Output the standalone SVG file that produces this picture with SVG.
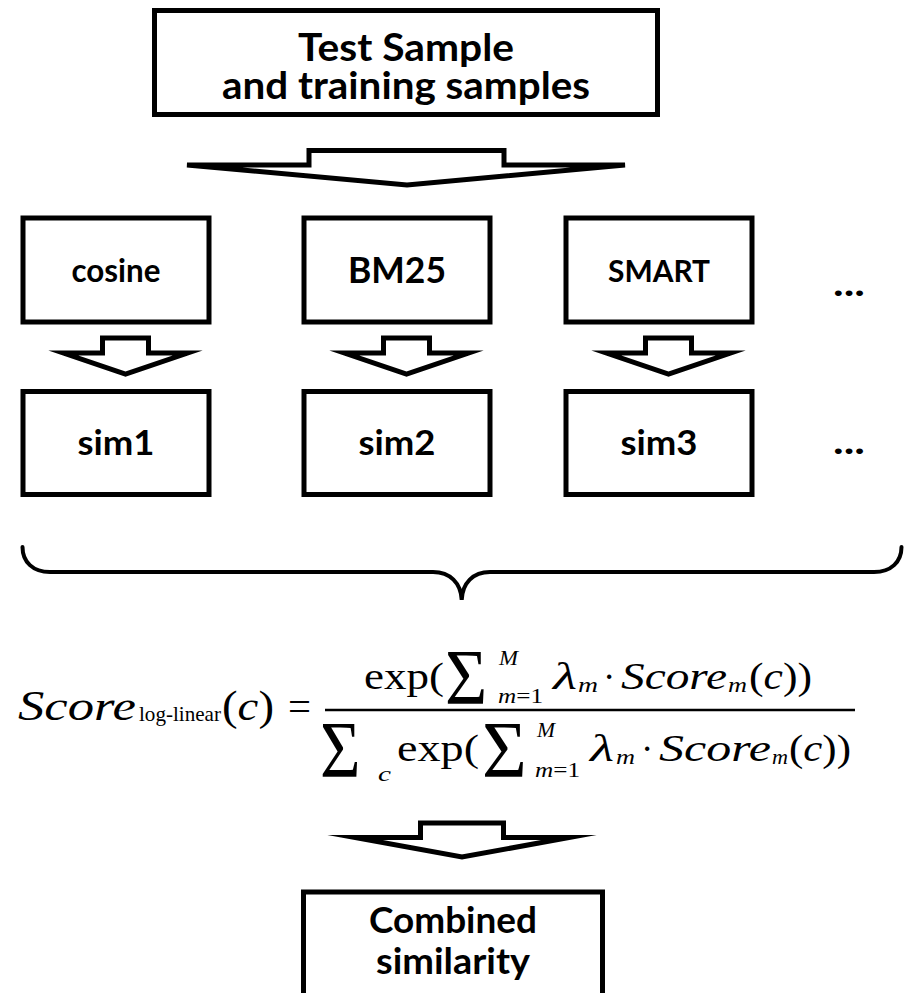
<svg xmlns="http://www.w3.org/2000/svg" width="904" height="993" viewBox="0 0 904 993">
  <style>
    .box { fill: #ffffff; stroke: #000000; stroke-width: 5; }
    .lbl { font-family: Lato, "Open Sans", "Liberation Sans", sans-serif; font-weight: 700; fill: #000000; text-anchor: middle; }
    .blk { fill: #ffffff; stroke: #000000; stroke-width: 5; stroke-linejoin: miter; stroke-miterlimit: 20; }
    .brace { fill: none; stroke: #000000; stroke-width: 4; stroke-linecap: round; }
    .m { font-family: "Liberation Serif", "Times New Roman", serif; fill: #000000; }
    .it { font-style: italic; }
  </style>
  <rect width="904" height="993" fill="#ffffff"/>

  <!-- input node -->
  <g id="input">
    <rect class="box" x="154.5" y="10.5" width="503" height="104"/>
    <text class="lbl" x="406" y="61" font-size="38.5" textLength="216" lengthAdjust="spacingAndGlyphs">Test Sample</text>
    <text class="lbl" x="406" y="99" font-size="38.5" textLength="368" lengthAdjust="spacingAndGlyphs">and training samples</text>
  </g>

  <!-- similarity measures -->
  <g id="cosine">
    <rect class="box" x="23" y="218" width="186" height="104"/>
    <text class="lbl" x="116" y="282" font-size="32" textLength="89" lengthAdjust="spacingAndGlyphs">cosine</text>
  </g>
  <g id="bm25">
    <rect class="box" x="304" y="218" width="186" height="104"/>
    <text class="lbl" x="397" y="283" font-size="36" textLength="98" lengthAdjust="spacingAndGlyphs">BM25</text>
  </g>
  <g id="smart">
    <rect class="box" x="566" y="218" width="186" height="104"/>
    <text class="lbl" x="659" y="282" font-size="30.5" textLength="102" lengthAdjust="spacingAndGlyphs">SMART</text>
  </g>
  <g id="more-measures">
    <text class="lbl" x="849" y="296" font-size="36" textLength="32" lengthAdjust="spacingAndGlyphs">...</text>
  </g>

  <!-- similarity scores -->
  <g id="sim1">
    <rect class="box" x="23" y="391.5" width="186" height="103"/>
    <text class="lbl" x="116" y="455" font-size="35" textLength="77" lengthAdjust="spacingAndGlyphs">sim1</text>
  </g>
  <g id="sim2">
    <rect class="box" x="304" y="391.5" width="186" height="103"/>
    <text class="lbl" x="397" y="455" font-size="35" textLength="77" lengthAdjust="spacingAndGlyphs">sim2</text>
  </g>
  <g id="sim3">
    <rect class="box" x="566" y="391.5" width="186" height="103"/>
    <text class="lbl" x="659" y="455" font-size="35" textLength="77" lengthAdjust="spacingAndGlyphs">sim3</text>
  </g>
  <g id="more-sims">
    <text class="lbl" x="849" y="454" font-size="36" textLength="32" lengthAdjust="spacingAndGlyphs">...</text>
  </g>

  <!-- log-linear combination formula -->
  <g id="formula" class="m">
    <text class="it" x="18" y="720" font-size="42" textLength="118" lengthAdjust="spacingAndGlyphs">Score</text>
    <text x="139" y="721" font-size="21" textLength="82" lengthAdjust="spacingAndGlyphs">log-linear</text>
    <text x="222" y="720" font-size="42" textLength="52" lengthAdjust="spacingAndGlyphs">(<tspan class="it">c</tspan>)</text>
    <text x="288" y="720" font-size="42" textLength="23" lengthAdjust="spacingAndGlyphs">=</text>
    <line x1="325" y1="710" x2="855" y2="710" stroke="#000000" stroke-width="2.5"/>

    <!-- numerator -->
    <text x="364" y="689" font-size="37" textLength="80" lengthAdjust="spacingAndGlyphs">exp(</text>
    <text transform="translate(445 703) scale(0.92 1)" font-size="79">Σ</text>
    <text class="it" x="499" y="665" font-size="22" textLength="19" lengthAdjust="spacingAndGlyphs">M</text>
    <text x="498" y="703" font-size="20" textLength="45" lengthAdjust="spacingAndGlyphs"><tspan class="it">m</tspan>=1</text>
    <text class="it" x="553" y="689" font-size="38" textLength="24" lengthAdjust="spacingAndGlyphs">λ</text>
    <text class="it" x="578" y="692" font-size="21" textLength="20" lengthAdjust="spacingAndGlyphs">m</text>
    <text x="603" y="689" font-size="37">·</text>
    <text class="it" x="621" y="689" font-size="37" textLength="106" lengthAdjust="spacingAndGlyphs">Score</text>
    <text class="it" x="728" y="692" font-size="21" textLength="19" lengthAdjust="spacingAndGlyphs">m</text>
    <text x="749" y="689" font-size="37" textLength="63" lengthAdjust="spacingAndGlyphs">(<tspan class="it">c</tspan>))</text>

    <!-- denominator -->
    <text transform="translate(320 777) scale(0.86 1)" font-size="81">Σ</text>
    <text class="it" x="378" y="781" font-size="21" textLength="13" lengthAdjust="spacingAndGlyphs">c</text>
    <text x="397" y="761" font-size="37" textLength="82" lengthAdjust="spacingAndGlyphs">exp(</text>
    <text transform="translate(482 777) scale(0.95 1)" font-size="81">Σ</text>
    <text class="it" x="537" y="737" font-size="22" textLength="18" lengthAdjust="spacingAndGlyphs">M</text>
    <text x="535" y="777" font-size="20" textLength="45" lengthAdjust="spacingAndGlyphs"><tspan class="it">m</tspan>=1</text>
    <text class="it" x="590" y="761" font-size="38" textLength="24" lengthAdjust="spacingAndGlyphs">λ</text>
    <text class="it" x="616" y="764" font-size="21" textLength="19" lengthAdjust="spacingAndGlyphs">m</text>
    <text x="641" y="761" font-size="37">·</text>
    <text class="it" x="659" y="761" font-size="37" textLength="112" lengthAdjust="spacingAndGlyphs">Score</text>
    <text class="it" x="772" y="764" font-size="21" textLength="16" lengthAdjust="spacingAndGlyphs">m</text>
    <text x="789" y="761" font-size="37" textLength="62" lengthAdjust="spacingAndGlyphs">(<tspan class="it">c</tspan>))</text>
  </g>

  <!-- output node -->
  <g id="combined">
    <rect class="box" x="303.5" y="892" width="299" height="200"/>
    <text class="lbl" x="453" y="933" font-size="36" textLength="168" lengthAdjust="spacingAndGlyphs">Combined</text>
    <text class="lbl" x="453" y="974" font-size="36" textLength="154" lengthAdjust="spacingAndGlyphs">similarity</text>
  </g>

  <!-- block arrows and the grouping brace -->
  <g id="connectors">
    <polygon class="blk" points="309,150.5 504,150.5 504,165 625,165 407,185 187,165 309,165"/>
    <polygon class="blk" points="102.5,338 148.5,338 148.5,353 187.5,353 125.5,374 63.5,353 102.5,353"/>
    <polygon class="blk" points="383.5,338 429.5,338 429.5,353 468.5,353 406.5,374 344.5,353 383.5,353"/>
    <polygon class="blk" points="645.5,338 691.5,338 691.5,353 730.5,353 668.5,374 606.5,353 645.5,353"/>
    <path class="brace" d="M22.5,547 C22.5,562 33,572 50,572 L433,572 C450,572 461,583 461.7,600 C462.4,583 473,572 490,572 L874,572 C891,572 901.5,562 901.5,547"/>
    <polygon class="blk" points="420.5,823 503.5,823 503.5,837.5 569,837.5 462,857 355,837.5 420.5,837.5"/>
  </g>
</svg>
